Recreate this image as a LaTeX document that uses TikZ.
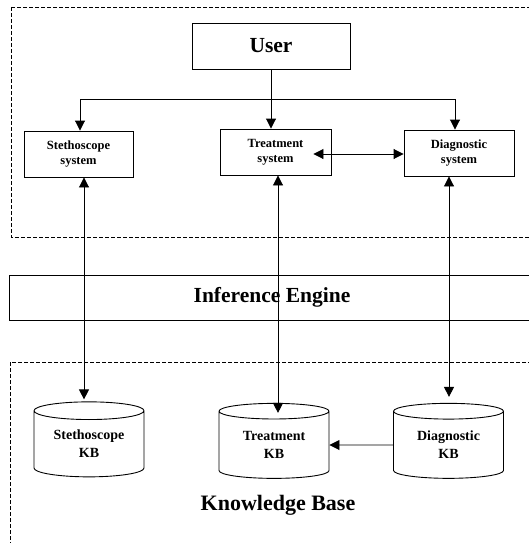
\documentclass[tikz,border=0pt]{standalone}
\usepackage{fontspec}
\setmainfont{Liberation Serif}
\usetikzlibrary{arrows.meta,shapes.geometric}

\begin{document}
\begin{tikzpicture}[x=1pt,y=-1pt,>={Triangle[length=10pt,width=10pt]},line width=0.9pt,
  sys node/.style={rectangle,draw,inner sep=0pt,align=center,minimum width=110pt,minimum height=46pt,font=\fontsize{12.5}{15}\selectfont\bfseries},
  kb node/.style={cylinder,shape border rotate=90,draw,aspect=0.25,inner sep=0pt,align=center,minimum width=110pt,minimum height=75pt,font=\fontsize{14}{18}\selectfont\bfseries},
  big text/.style={font=\fontsize{21.5}{24}\selectfont\bfseries},
  zone/.style={draw,line width=0.8pt,dash pattern=on 4pt off 2pt}]

  \useasboundingbox (0,0) rectangle (529,543);
  \clip (0,0) rectangle (529,543);

  \draw[zone] (11,7) rectangle (560,237);
  \draw[zone] (10,362) rectangle (560,580);
  \draw (9,275) rectangle (560,320);

  \node[rectangle,draw,minimum width=158pt,minimum height=46pt,inner sep=0pt,big text] (user) at (271,46) {User};
  \node[sys node,minimum width=109pt] (steth) at (78.5,154) {Stethoscope\\system};
  \node[sys node,minimum width=111pt] (treat) at (275.5,152) {Treatment\\system};
  \node[sys node] (diag) at (459,153) {Diagnostic\\system};

  \node[big text] (engine) at (272,297) {Inference Engine};

  \node[kb node] (stethKB) at (89,444) {Stethoscope\\KB};
  \node[kb node] (treatKB) at (274,445) {Treatment\\KB};
  \node[kb node] (diagKB) at (448.5,445) {Diagnostic\\KB};
  \node[font=\fontsize{22}{24}\selectfont\bfseries] (kbase) at (278,505) {Knowledge Base};

  \draw (user.south) -- ++(0,30) coordinate (fork);
  \draw[->] (fork) -| ([xshift=1.5pt]steth.north);
  \draw[->] (fork) -- (fork |- treat.north);
  \draw[->] (fork) -| ([xshift=-4pt]diag.north);
  \draw[<->] ([xshift=-18pt,yshift=-2pt]treat.east) -- ([yshift=-2pt]treat.east -| diag.west);

  \draw[<->] ([xshift=5.5pt]steth.south) -- ([xshift=5.5pt,yshift=2pt]steth.south |- stethKB.north);
  \draw[<->] ([xshift=2.5pt]treat.south) -- ([xshift=2.5pt,yshift=-10pt]treat.south |- treatKB.north);
  \draw[<->] ([xshift=-10pt]diag.south) -- ([xshift=-10pt,yshift=6pt]diag.south |- diagKB.north);
  \draw[->] (diagKB.west) -- (treatKB.east);

\end{tikzpicture}
\end{document}
